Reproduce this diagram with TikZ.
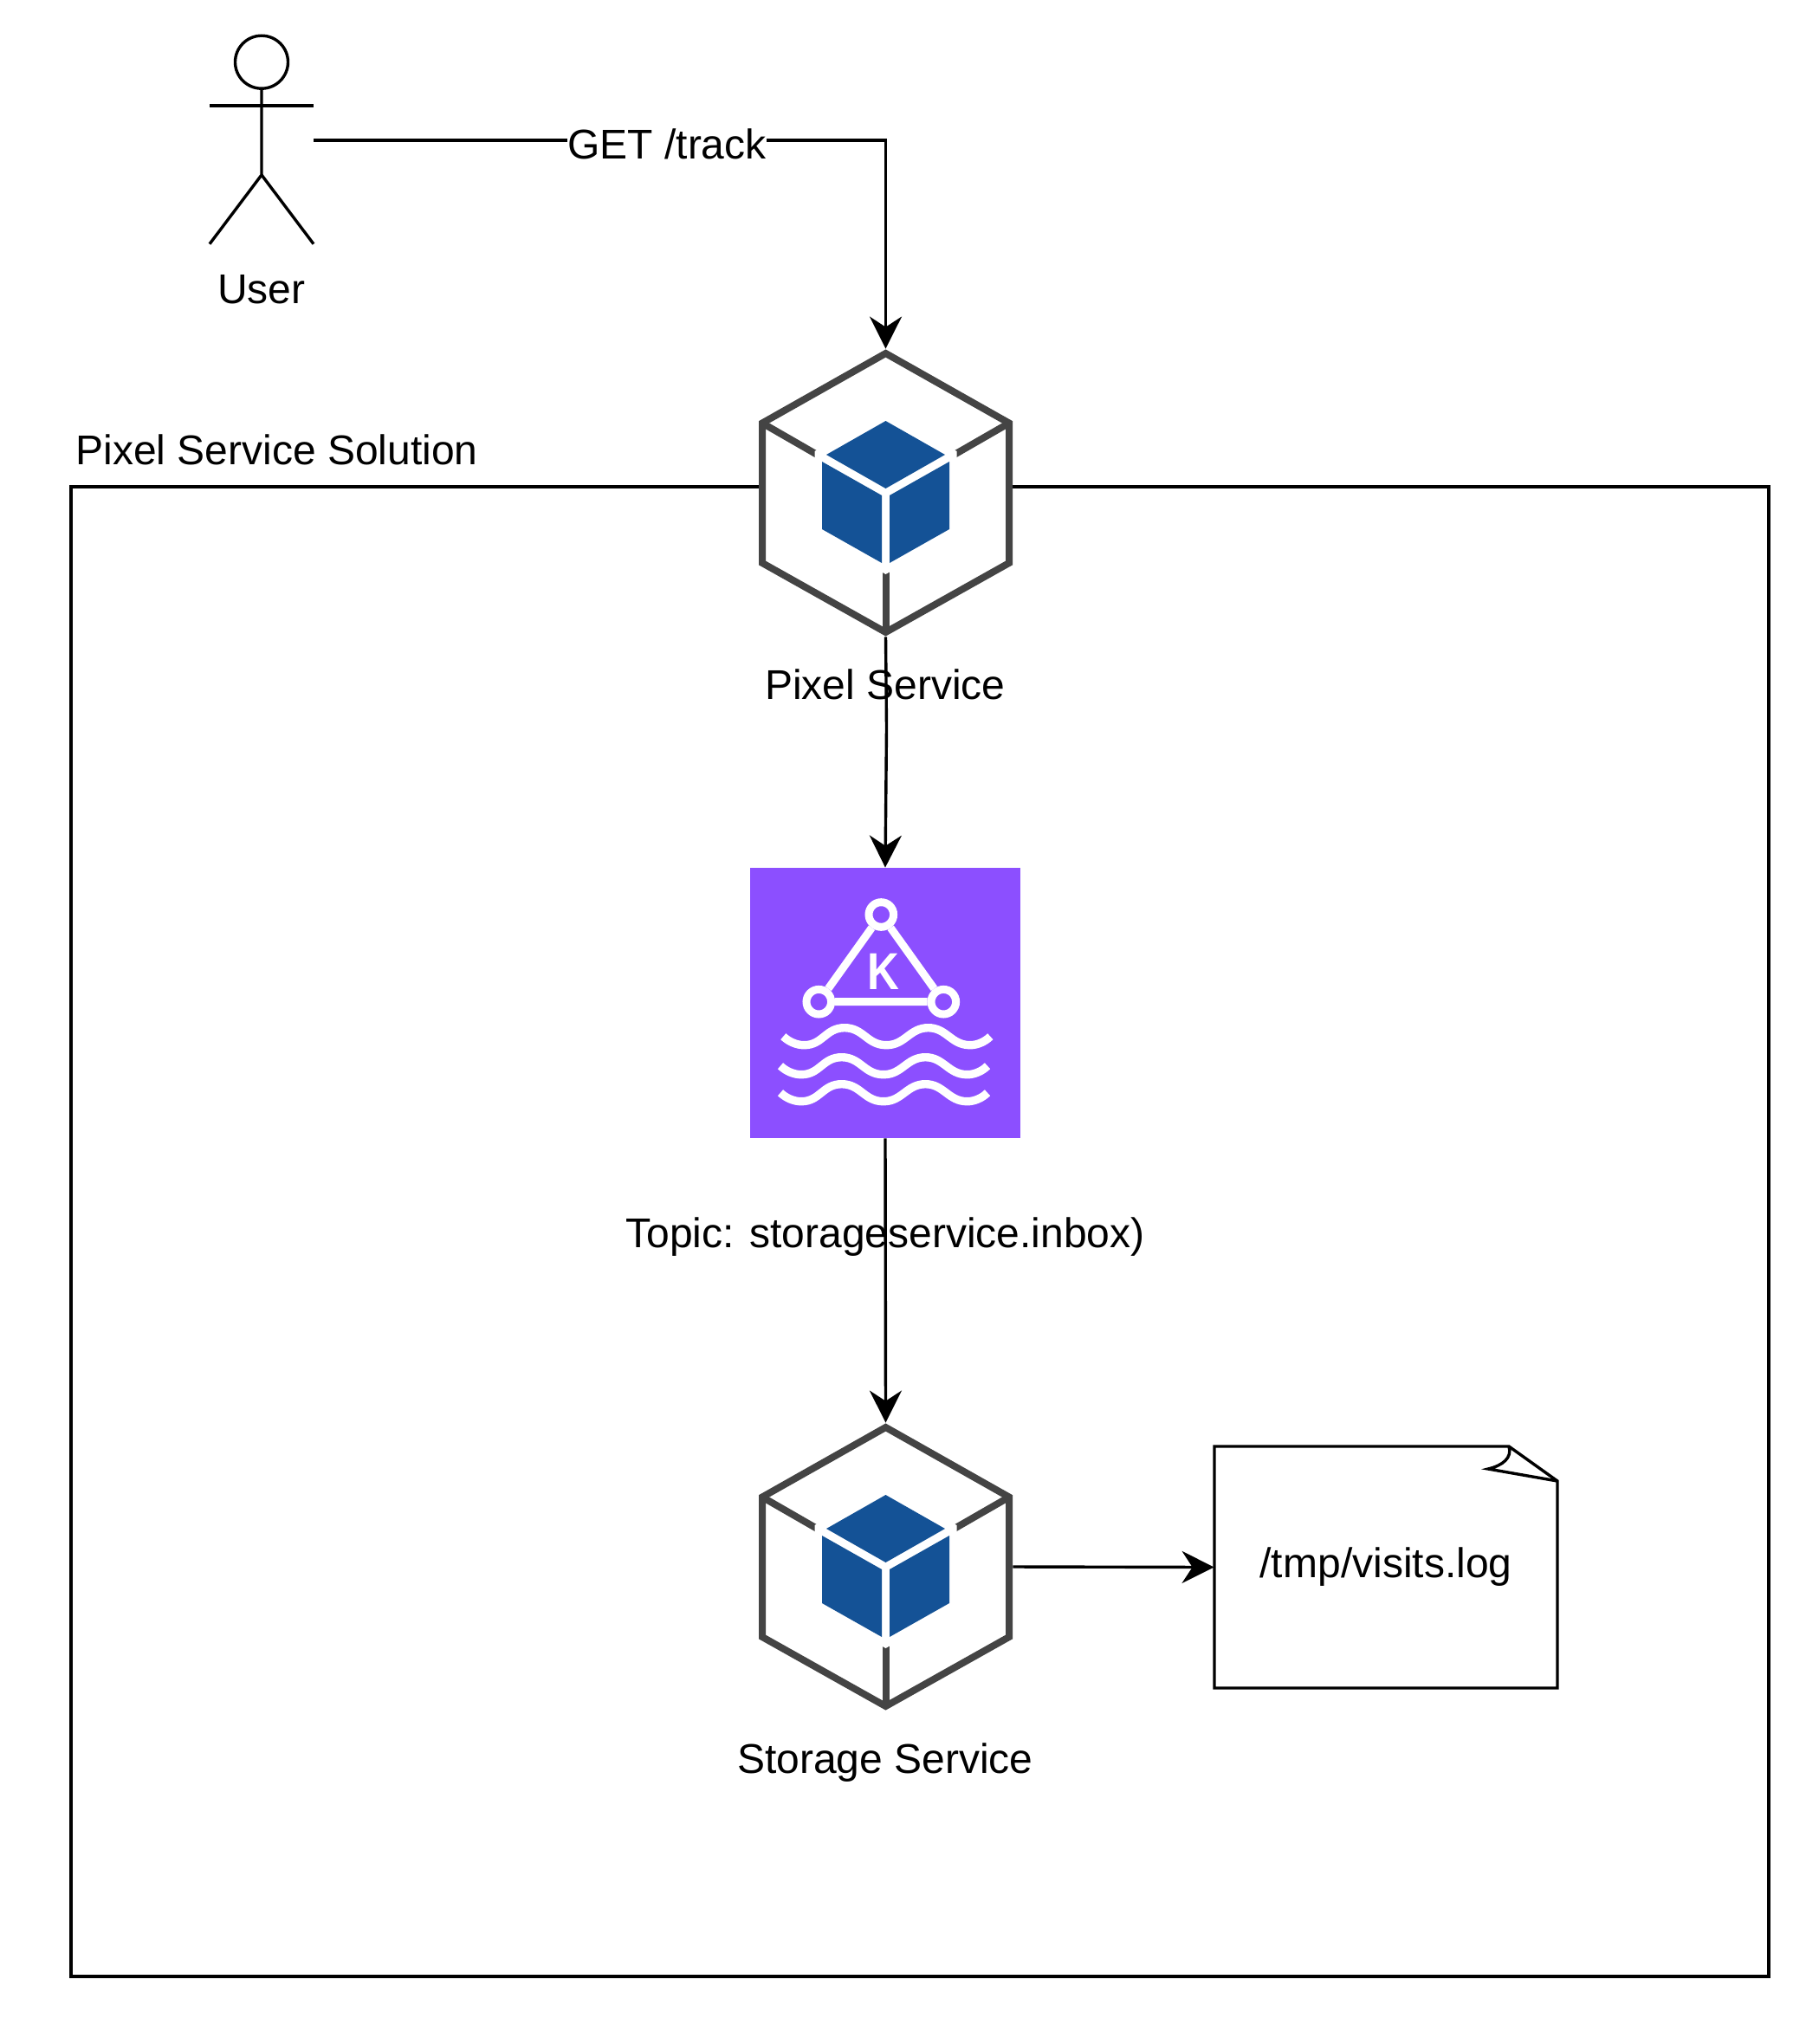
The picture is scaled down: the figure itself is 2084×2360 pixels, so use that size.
\documentclass[tikz,border=0pt]{standalone}
\usepackage{fontspec}
\setmainfont{Liberation Sans}
\usepackage{tikz}
\usetikzlibrary{arrows.meta}
\definecolor{hexgrey}{HTML}{444444}
\definecolor{cubeblue}{HTML}{145296}
\definecolor{topicpurple}{HTML}{8C4FFF}
% one hexagon with its cube, around a named node
\newcommand{\serviceicon}[1]{
\begin{scope}[shift={(#1.center)}]
\draw[hexgrey, line width=4pt, fill=white] (0,-161) -- (142.5,-80.5) -- (142.5,81) -- (0,161) -- (-142.5,81) -- (-142.5,-80.5) -- cycle;
\draw[hexgrey, line width=4pt] (-142.5,-80.5) -- (-60,-33);
\draw[hexgrey, line width=4pt] (142.5,-80.5) -- (60,-33);
\draw[hexgrey, line width=4pt] (0,161) -- (0,60);
\fill[white] (0,-94) -- (82,-48) -- (82,48) -- (0,94) -- (-82,48) -- (-82,-48) -- cycle;
\fill[cubeblue] (0,-83) -- (68.5,-44) -- (0,-5) -- (-68.5,-44) -- cycle;
\fill[cubeblue] (-73.5,-36) -- (-4.5,3) -- (-4.5,81) -- (-73.5,42) -- cycle;
\fill[cubeblue] (73.5,-36) -- (4.5,3) -- (4.5,81) -- (73.5,42) -- cycle;
\end{scope}
}
\newcommand{\wavepath}{(904.3,1196.7) .. controls (911,1203) and (920,1206.7) .. (928.3,1206.7) .. controls (950,1206.7) and (953,1186.7) .. (975,1186.7) .. controls (997,1186.7) and (1001,1206.7) .. (1023.3,1206.7) .. controls (1045,1206.7) and (1050,1186.7) .. (1071.7,1186.7) .. controls (1093,1186.7) and (1098,1206.7) .. (1120,1206.7) .. controls (1128,1206.7) and (1137,1203) .. (1143.3,1196.7)}

\begin{document}
\begin{tikzpicture}[x=0.5pt, y=-0.5pt]
% Define styles
\tikzstyle{textlabel} = [inner sep=0pt, anchor=base, font=\fontsize{24}{28}\selectfont]
\tikzstyle{hexbox} = [inner sep=0pt, minimum width=146.5pt, minimum height=166pt]
\tikzstyle{topicbox} = [fill=topicpurple, inner sep=0pt, minimum size=156pt]
\tikzstyle{broker} = [circle, draw=white, fill=topicpurple, line width=4.5pt, inner sep=0pt, minimum size=14.3pt]
\tikzstyle{wavy} = [white, line width=4.7pt]
\tikzstyle{thin line} = [black, line width=1.7pt]
\tikzstyle{flow} = [thin line, -{Stealth[length=18.5pt, width=18.5pt, inset=6pt]}]
\useasboundingbox (0,0) rectangle (2084,2360);
% Define nodes
\node[thin line, draw, inner sep=0pt, minimum width=980pt, minimum height=860pt] (solution) at (1062,1422) {};
\node[textlabel, anchor=base west] (solution_text) at (87,536) {Pixel Service Solution};
\node[inner sep=0pt, minimum width=60pt, minimum height=120pt] (user) at (302,162) {};
\node[thin line, circle, draw, inner sep=0pt, minimum size=30.5pt] (head) at (302,71.7) {};
\node[textlabel] (user_text) at (302,350) {User};
\node[hexbox] (pixel) at (1022.5,569) {};
\node[hexbox] (storage) at (1022.5,1809) {};
\node[topicbox] (kafka) at (1022,1158) {};
\node[inner sep=0pt, minimum width=198pt, minimum height=139.5pt, font=\fontsize{24}{28}\selectfont] (logfile) at (1600,1809.5) {/tmp/visits.log};
\coordinate (bend) at (1023.5,840);
% Connect the nodes
\draw[flow] (user.east) -| (pixel.north);
\draw[flow] (pixel.south) -- (bend) -- (kafka.north);
\draw[flow] (kafka.south) -- (storage.north);
\draw[flow] (storage.east) -- (logfile.west);
% Icons and the rest
\serviceicon{pixel}
\serviceicon{storage}
\draw[thin line] (head) -- (302,202) -- (242,281.7);
\draw[thin line] (302,202) -- (362,281.7);
\draw[thin line] (242,122) -- (362,122);
\draw[thin line] (1402,1670) -- (1742,1670) -- (1798,1710) -- (1798,1949) -- (1402,1949) -- cycle;
\draw[thin line] (1798,1710) -- (1718,1696) .. controls (1735,1692) and (1746,1683) .. (1742,1670);
\node[broker] (broker_top) at (1017.3,1056) {};
\node[broker] (broker_left) at (945.3,1156.7) {};
\node[broker] (broker_right) at (1089.3,1156.7) {};
\draw[white, line width=4.5pt] (broker_top) -- (broker_left) -- (broker_right) -- (broker_top);
\node[inner sep=0pt, anchor=base, text=white, xscale=0.85, transform shape, font=\bfseries\fontsize{30}{32}\selectfont] (kafka_k) at (1019.5,1142) {K};
\draw[wavy] \wavepath;
\draw[wavy, shift={(-3.3,34)}] \wavepath;
\draw[wavy, shift={(-3.3,65)}] \wavepath;
\node[textlabel, fill=white] (get_text) at (770,184) {GET /track};
\node[textlabel] (pixel_text) at (1022,807) {Pixel Service};
\node[textlabel] (topic_text) at (1022,1440) {Topic: storageservice.inbox)};
\node[textlabel] (storage_text) at (1022,2047) {Storage Service};
\end{tikzpicture}
\end{document}
